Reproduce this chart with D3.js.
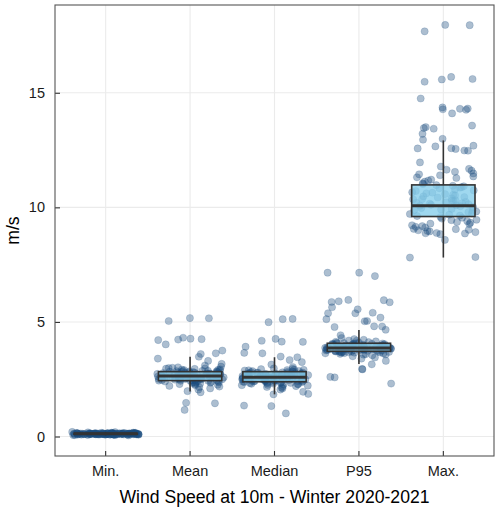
<!DOCTYPE html>
<html>
<head>
<meta charset="utf-8">
<script src="https://cdn.jsdelivr.net/npm/d3@7"></script>
<style>
  html, body { margin: 0; padding: 0; background: #fff; }
  svg { display: block; font-family: "Liberation Sans", Arial, sans-serif; }
</style>
</head>
<body>
<svg id="chart" width="500" height="510"></svg>
<script>
// ---------- data ----------
const categories = ["Min.", "Mean", "Median", "P95", "Max."];
const yTicks = [0, 5, 10, 15];
const xTitle = "Wind Speed at 10m - Winter 2020-2021";
const yTitle = "m/s";

// box statistics
const boxQ1     = [0.10, 2.44, 2.39, 3.72, 9.60];
const boxMedian = [0.12, 2.64, 2.585, 3.86, 10.07];
const boxQ3     = [0.14, 2.83, 2.83, 4.07, 10.98];
const whiskerLo = [0.05, 1.96, 1.84, 3.17, 7.81];
const whiskerHi = [0.20, 3.48, 3.46, 4.65, 12.92];

// daily values
const minValues = [
  0.12,0.09,0.15,0.11,0.08,0.13,0.10,0.14,0.12,0.07,
  0.16,0.11,0.09,0.13,0.12,0.10,0.18,0.08,0.14,0.11,
  0.12,0.06,0.13,0.15,0.10,0.09,0.12,0.17,0.11,0.13,
  0.08,0.14,0.12,0.10,0.11,0.19,0.09,0.13,0.12,0.15,
  0.11,0.07,0.14,0.10,0.12,0.13,0.09,0.16,0.11,0.12,
  0.10,0.13,0.08,0.15,0.12,0.11,0.14,0.09,0.13,0.10,
  0.12,0.16,0.11,0.08,0.13,0.12,0.10,0.15,0.09,0.14,
  0.11,0.12,0.20,0.10,0.13,0.07,0.12,0.11,0.14,0.09,
  0.13,0.10,0.12,0.15,0.11,0.08,0.13,0.12,0.16,0.10,
  0.11,0.14,0.09,0.12,0.13,0.10,0.05,0.12,0.11,0.13,
  0.12,0.10,0.14,0.11,0.13,0.09,0.12,0.15,0.10,0.12,
  0.13,0.11,0.08,0.14,0.12,0.10,0.13,0.11,0.15,0.12
];
const meanValues = [
  2.64,2.71,2.52,2.88,2.45,2.60,2.79,2.33,2.95,2.68,
  2.41,2.57,2.83,2.74,2.49,3.05,2.62,2.36,2.70,2.55,
  5.17,2.77,2.47,2.90,2.66,2.28,2.59,2.81,2.43,2.73,
  3.48,2.51,2.86,2.21,2.65,2.97,2.39,2.69,2.54,2.78,
  1.16,2.61,2.44,2.84,2.72,3.00,2.50,2.31,2.76,2.58,
  4.31,2.67,2.40,2.92,2.53,2.82,2.15,2.63,2.75,2.46,
  3.63,2.80,2.56,2.35,2.87,2.70,2.48,3.10,2.60,2.42,
  4.25,2.74,2.26,2.85,2.64,2.52,2.99,2.38,2.68,2.57,
  1.45,5.04,4.21,3.75,2.10,4.27,1.93,3.17,4.23,3.30,
  5.16,4.02,3.60,1.47,2.05,3.40,1.98,2.18,2.93,2.62,
  2.66,2.49,2.78,2.58,2.91,2.37,2.72,2.54,2.84,2.44,
  2.69,2.61,2.29,2.80,2.51,2.96,2.65,2.43,2.75,2.56,
  2.34,2.87,2.63,2.47,2.71,2.24,2.82,2.59,3.02,2.67
];
const medianValues = [
  2.58,2.66,2.45,2.80,2.37,2.53,2.72,2.28,2.88,2.62,
  2.34,2.50,2.77,2.69,2.42,2.97,2.56,2.30,2.64,2.48,
  5.12,2.71,2.40,2.85,2.60,2.22,2.52,2.75,2.36,2.67,
  3.46,2.44,2.81,2.16,2.59,2.91,2.33,2.63,2.47,2.73,
  1.01,2.55,2.38,2.78,2.65,2.94,2.43,2.25,2.70,2.51,
  4.26,2.61,2.35,2.86,2.46,2.76,2.10,2.57,2.68,2.41,
  3.65,2.74,2.49,2.29,2.82,2.64,2.42,3.03,2.54,2.39,
  4.18,2.69,2.20,2.79,2.58,2.45,2.92,2.32,2.62,2.50,
  1.33,5.13,4.14,3.63,2.05,4.13,1.84,3.14,3.92,3.25,
  4.99,3.49,3.34,1.35,1.95,1.86,2.13,2.89,2.60,2.52,
  2.61,2.43,2.73,2.55,2.84,2.31,2.67,2.48,2.79,2.38,
  2.64,2.57,2.24,2.75,2.46,2.90,2.59,2.36,2.70,2.51,
  2.27,2.82,2.56,2.41,2.66,2.19,2.77,2.53,2.95,2.62
];
const p95Values = [
  3.86,3.92,3.78,4.02,3.70,3.84,3.97,3.63,4.10,3.88,
  7.00,3.74,3.81,4.05,3.95,3.68,4.18,3.85,3.58,3.91,
  3.77,5.86,3.99,3.72,4.07,3.83,3.50,3.79,4.01,3.66,
  3.94,2.31,3.87,3.75,4.12,3.45,3.89,4.22,3.61,3.93,
  5.38,3.80,3.98,3.71,4.03,3.82,3.55,4.08,3.90,3.73,
  4.15,7.15,3.86,3.64,3.96,3.76,4.04,3.84,3.69,4.25,
  5.95,3.89,3.79,4.00,3.40,3.87,3.92,3.74,4.06,3.83,
  2.58,3.57,3.95,3.81,4.30,3.70,3.88,3.85,4.09,3.62,
  5.12,3.91,3.78,4.02,3.67,3.97,3.80,3.94,3.86,4.66,
  7.15,5.96,5.87,5.90,5.38,5.40,5.55,5.64,5.03,5.19,
  5.04,4.78,4.81,4.80,4.42,2.60,2.93,2.95,3.15,3.30,
  3.88,3.76,4.01,3.83,4.13,3.66,3.93,3.79,4.06,3.71,
  3.90,3.85,3.59,4.04,3.74,4.19,3.87,3.68,3.97,3.81
];
const maxValues = [
  10.07,9.62,10.45,11.02,9.18,10.31,9.85,10.78,8.92,10.14,
  17.96,9.74,10.58,11.21,9.05,10.22,9.91,10.66,9.33,10.02,
  12.58,9.55,10.39,10.88,8.86,10.11,9.97,11.35,9.46,10.27,
  15.60,9.68,10.52,10.94,9.12,10.18,9.79,11.48,8.97,10.35,
  14.31,9.58,10.71,11.12,9.27,10.05,9.88,10.83,9.40,10.24,
  13.43,9.64,10.43,10.97,8.83,10.16,9.93,11.55,9.22,10.61,
  12.95,9.71,10.36,11.28,9.02,10.09,9.82,10.74,9.51,10.29,
  17.95,7.81,14.75,12.66,8.58,15.48,13.57,12.48,7.83,14.26,
  17.68,8.87,15.69,13.50,12.69,9.06,14.36,12.47,11.96,8.88,
  15.58,14.30,13.46,12.57,11.78,14.28,13.21,12.55,11.68,14.10,
  12.99,11.64,11.60,11.05,11.40,11.17,9.36,10.48,9.15,10.86,
  11.31,9.44,10.55,9.00,10.92,11.44,9.29,10.64,8.95,10.20
];
const seriesValues = [minValues, meanValues, medianValues, p95Values, maxValues];

// ---------- layout ----------
const svg = d3.select("#chart");
const panel = { left: 55, right: 494, top: 5, bottom: 456 };

const x = d3.scaleBand()
  .domain(categories)
  .range([panel.left, panel.right])
  .paddingInner(0)
  .paddingOuter(0.1);
const step = x.step();
const cx = c => x(c) + x.bandwidth() / 2;

const y = d3.scaleLinear()
  .domain([-0.85, 18.83])
  .range([panel.bottom, panel.top]);

// deterministic jitter (stand-in for geom_jitter's random offsets)
function jitter(i, k) {
  const s = Math.sin((i + 1) * 12.9898 + (k + 1) * 78.233) * 43758.5453;
  return (s - Math.floor(s)) - 0.5; // in [-0.5, 0.5)
}

// grid
const grid = svg.append("g");
grid.selectAll("line.h").data(yTicks).join("line")
  .attr("x1", panel.left).attr("x2", panel.right)
  .attr("y1", d => y(d)).attr("y2", d => y(d))
  .attr("stroke", "#ebebeb").attr("stroke-width", 1.1);
grid.selectAll("line.v").data(categories).join("line")
  .attr("x1", d => cx(d)).attr("x2", d => cx(d))
  .attr("y1", panel.top).attr("y2", panel.bottom)
  .attr("stroke", "#ebebeb").attr("stroke-width", 1.1);

// points
const pts = [];
seriesValues.forEach((vals, k) => {
  vals.forEach((v, i) => pts.push({ c: categories[k], v, dx: jitter(i, k) * 0.8 * step }));
});
svg.append("g").selectAll("circle").data(pts).join("circle")
  .attr("cx", d => cx(d.c) + d.dx)
  .attr("cy", d => y(d.v))
  .attr("r", 3.6)
  .attr("fill", "#1a4b7e")
  .attr("fill-opacity", 0.36)
  .attr("stroke", "#1a4b7e")
  .attr("stroke-opacity", 0.3)
  .attr("stroke-width", 0.6);

// boxplots
const boxes = categories.map((c, k) => ({
  c, q1: boxQ1[k], med: boxMedian[k], q3: boxQ3[k], lo: whiskerLo[k], hi: whiskerHi[k]
}));
const bw = 0.75 * step;
const bg = svg.append("g");
bg.selectAll("line.wh").data(boxes).join("line")
  .attr("x1", d => cx(d.c)).attr("x2", d => cx(d.c))
  .attr("y1", d => y(d.hi)).attr("y2", d => y(d.lo))
  .attr("stroke", "#333").attr("stroke-width", 1.6);
bg.selectAll("rect").data(boxes).join("rect")
  .attr("x", d => cx(d.c) - bw / 2)
  .attr("width", bw)
  .attr("y", d => y(d.q3))
  .attr("height", d => Math.max(0.5, y(d.q1) - y(d.q3)))
  .attr("fill", "#87ceeb").attr("fill-opacity", 0.8)
  .attr("stroke", "#333").attr("stroke-width", 1.6);
bg.selectAll("line.md").data(boxes).join("line")
  .attr("x1", d => cx(d.c) - bw / 2).attr("x2", d => cx(d.c) + bw / 2)
  .attr("y1", d => y(d.med)).attr("y2", d => y(d.med))
  .attr("stroke", "#333").attr("stroke-width", 3);

// axes (ticks point inward)
const yAxis = svg.append("g")
  .attr("transform", `translate(${panel.left},0)`)
  .call(d3.axisLeft(y).tickValues(yTicks).tickSizeInner(-5).tickSizeOuter(0).tickPadding(10));
const xAxis = svg.append("g")
  .attr("transform", `translate(0,${panel.bottom})`)
  .call(d3.axisBottom(x).tickSizeInner(-5).tickSizeOuter(0).tickPadding(10));
[yAxis, xAxis].forEach(g => {
  g.select(".domain").remove();
  g.selectAll(".tick line").attr("stroke", "#333").attr("stroke-width", 1.1);
  g.selectAll(".tick text").attr("fill", "#1a1a1a")
    .style("font-size", "14.5px").style("font-family", "'Liberation Sans', Arial, sans-serif");
});

// panel border
svg.append("rect")
  .attr("x", panel.left).attr("y", panel.top)
  .attr("width", panel.right - panel.left).attr("height", panel.bottom - panel.top)
  .attr("fill", "none").attr("stroke", "#555").attr("stroke-width", 1.1);

// titles
svg.append("text")
  .attr("x", (panel.left + panel.right) / 2).attr("y", 503)
  .attr("text-anchor", "middle")
  .style("font-size", "17.6px").attr("fill", "#000")
  .text(xTitle);
svg.append("text")
  .attr("transform", `translate(19,${(panel.top + panel.bottom) / 2}) rotate(-90)`)
  .attr("text-anchor", "middle")
  .style("font-size", "17.6px").attr("fill", "#000")
  .text(yTitle);
</script>
</body>
</html>
